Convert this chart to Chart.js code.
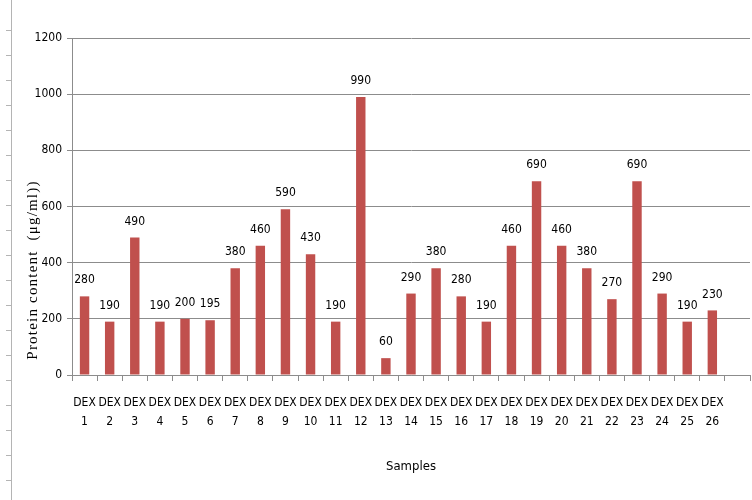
<!DOCTYPE html>
<html>
<head>
<meta charset="utf-8">
<script src="https://cdn.jsdelivr.net/npm/chart.js@4"></script>
<style>
  html, body { margin: 0; padding: 0; background: #fff; }
  #wrap { width: 752px; height: 500px; }
</style>
</head>
<body>
<div id="wrap"><canvas id="proteinChart" width="752" height="500"></canvas></div>
<script>
// === PROTEIN CONTENT CHART ===

const sampleLabels = ['1','2','3','4','5','6','7','8','9','10','11','12','13','14','15','16','17','18','19','20','21','22','23','24','25','26'];
const proteinValues = [280, 190, 490, 190, 200, 195, 380, 460, 590, 430, 190, 990, 60, 290, 380, 280, 190, 460, 690, 460, 380, 270, 690, 290, 190, 230];
const yTicks = [0, 200, 400, 600, 800, 1000, 1200];

const BAR_RED = '#C0504D';
const GRID = '#8c8c8c';
const LABEL_FONT = "'DejaVu Sans Condensed', 'DejaVu Sans', sans-serif";

// excel leaves an empty slot after the last sample
const labels = sampleLabels.map(n => ['DEX', n]).concat([['', '']]);
const values = proteinValues.concat([null]);

const decorPlugin = {
    id: 'decor',
    beforeDraw(chart) {
        const c = chart.ctx;
        c.save();
        // sheet ruler at the far left
        c.strokeStyle = '#b4b4b4';
        c.lineWidth = 1;
        c.beginPath();
        c.moveTo(11.5, 0); c.lineTo(11.5, 500);
        for (let y = 30; y < 500; y += 25) { c.moveTo(6, y + 0.5); c.lineTo(11, y + 0.5); }
        c.stroke();
        c.restore();
    },
    afterDatasetsDraw(chart) {
        const c = chart.ctx;
        const meta = chart.getDatasetMeta(0);
        c.save();
        c.fillStyle = '#000';
        c.font = '12px ' + LABEL_FONT;
        c.textAlign = 'center';
        c.textBaseline = 'middle';
        meta.data.forEach((bar, i) => {
            if (values[i] == null) return;
            c.fillText(String(values[i]), bar.x, bar.y - 16);
        });
        // y title sits lower than the axis middle in the original
        c.translate(33, 270);
        c.rotate(-Math.PI / 2);
        c.font = "15px 'Liberation Serif', serif";
        c.letterSpacing = '1.2px';
        c.fillText('Protein content  (\u03bcg/ml))', 0, 0);
        c.restore();
    }
};

const ctx = document.getElementById('proteinChart').getContext('2d');
new Chart(ctx, {
    type: 'bar',
    data: {
        labels,
        datasets: [{ data: values, backgroundColor: BAR_RED, barPercentage: 0.75, categoryPercentage: 0.5 }]
    },
    options: {
        responsive: false, animation: false,
        layout: { padding: { top: 38, right: 2, left: 0, bottom: 0 } },
        plugins: { legend: { display: false }, tooltip: { enabled: false } },
        scales: {
            x: {
                grid: { drawOnChartArea: false, drawTicks: true, tickLength: 6, color: GRID },
                border: { color: GRID },
                ticks: { color: '#000', padding: 12, maxRotation: 0, autoSkip: false, font: { family: LABEL_FONT, size: 12, lineHeight: 1.6 } },
                title: { display: true, text: 'Samples', color: '#000', font: { family: LABEL_FONT, size: 13 }, padding: { top: 0, bottom: 26 } },
                afterFit: s => { s.height = 125; }
            },
            y: {
                min: 0, max: 1200,
                afterBuildTicks: s => { s.ticks = yTicks.map(v => ({ value: v })); },
                grid: { color: GRID, tickLength: 5 },
                border: { color: GRID },
                ticks: { color: '#000', padding: 5, font: { family: LABEL_FONT, size: 12 }, callback: v => String(v) },
                afterFit: s => { s.width = 72; }
            }
        }
    },
    plugins: [decorPlugin]
});
</script>
</body>
</html>
